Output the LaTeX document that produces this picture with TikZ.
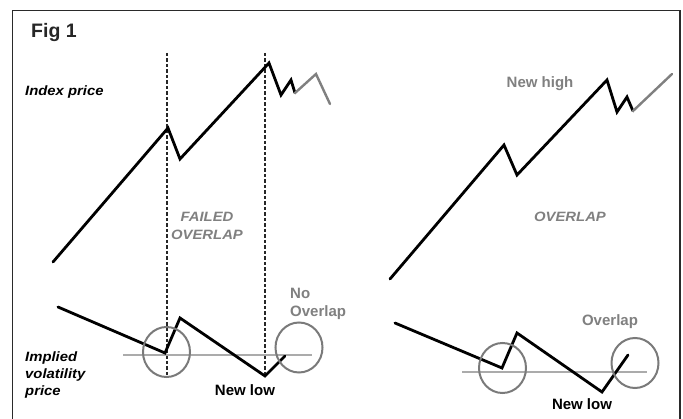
\documentclass[tikz,border=0pt]{standalone}
\usepackage{fontspec}
\usetikzlibrary{shapes.geometric}
\setmainfont{Liberation Sans}
\newfontfamily\widesans[FakeStretch=1.1]{Liberation Sans}
\definecolor{txtgray}{HTML}{808080}
\definecolor{ringgray}{HTML}{7A7A7A}
\definecolor{levelgray}{HTML}{ABABAB}
\definecolor{framegray}{HTML}{2A2A2A}
\begin{document}
\begin{tikzpicture}[x=1pt,y=-1pt,
  price/.style={line width=2.8pt,black,line join=miter,line cap=round},
  fadeline/.style={line width=2.4pt,txtgray,line join=miter,line cap=round},
  ring/.style={draw=ringgray,line width=2pt,ellipse,minimum width=47pt,minimum height=50pt,inner sep=0pt},
  level/.style={line width=2pt,levelgray},
  guide/.style={line width=1.2pt,black!85,dash pattern=on 3.5pt off 2pt},
  lbl/.style={inner sep=0pt,font=\fontsize{15}{15}\selectfont\bfseries},
  ilbl/.style={inner sep=0pt,font=\fontsize{13.5}{13.5}\selectfont\widesans\bfseries\itshape},
]
\useasboundingbox (0,0) rectangle (683,419);
\fill[white] (0,0) rectangle (683,419);
\draw[line width=1.3pt,framegray] (12.5,420) -- (12.5,10.5) -- (680,10.5) -- (680,420);

% labels
\node[inner sep=0pt,anchor=base west,font=\fontsize{19.5}{19.5}\selectfont\bfseries,black!85] (fig) at (31,38) {Fig 1};
\node[ilbl,anchor=base west] (idx) at (25,96) {Index price};
\node[ilbl,anchor=base west] (imp1) at (25,362) {Implied};
\node[ilbl,anchor=base west] (imp2) at (25,379) {volatility};
\node[ilbl,anchor=base west] (imp3) at (25,396) {price};
\node[ilbl,anchor=base,txtgray] (fail1) at (207,222) {FAILED};
\node[ilbl,anchor=base,txtgray] (fail2) at (207,240) {OVERLAP};
\node[ilbl,anchor=base,txtgray] (ovl) at (570,222) {OVERLAP};
\node[lbl,anchor=base west,txtgray] (no1) at (290,299) {No};
\node[lbl,anchor=base west,txtgray] (no2) at (290,317) {Overlap};
\node[lbl,anchor=base,txtgray] (nh) at (540,88) {New high};
\node[lbl,anchor=base,txtgray] (ov2) at (610,326) {Overlap};
\node[lbl,anchor=base] (nl1) at (245,396) {New low};
\node[lbl,anchor=base] (nl2) at (582,410) {New low};

% guides
\coordinate (g1t) at (167,53); \coordinate (g1b) at (167,377);
\coordinate (g2t) at (265,53); \coordinate (g2b) at (265,375);
\draw[guide] (g1t) -- (g1b);
\draw[guide] (g2t) -- (g2b);

% left index price
\draw[price] (53,262) -- (168,128) -- (180,159) -- (269,63) -- (281,95) -- (291,80) -- (295,93);
\draw[fadeline] (295,93) -- (316,74) -- (330,104);

% right index price
\draw[price] (390,279) -- (504,145) -- (517,175) -- (607,80) -- (617,112) -- (627,97) -- (633,111);
\draw[fadeline] (633,111) -- (672,74);

% level lines
\draw[level] (123,355) -- (312,355);
\draw[level] (462,372) -- (647,372);

% left volatility
\draw[price] (58,307) -- (165,353) -- (180,318) -- (265,376) -- (285,356);
% right volatility
\draw[price] (395,323) -- (502,368) -- (517,333) -- (602,392) -- (628,355);

% rings
\node[ring] (c1) at (166.5,352) {};
\node[ring] (c2) at (299,347.5) {};
\node[ring] (c3) at (502.5,368) {};
\node[ring] (c4) at (635,363) {};
\end{tikzpicture}
\end{document}
